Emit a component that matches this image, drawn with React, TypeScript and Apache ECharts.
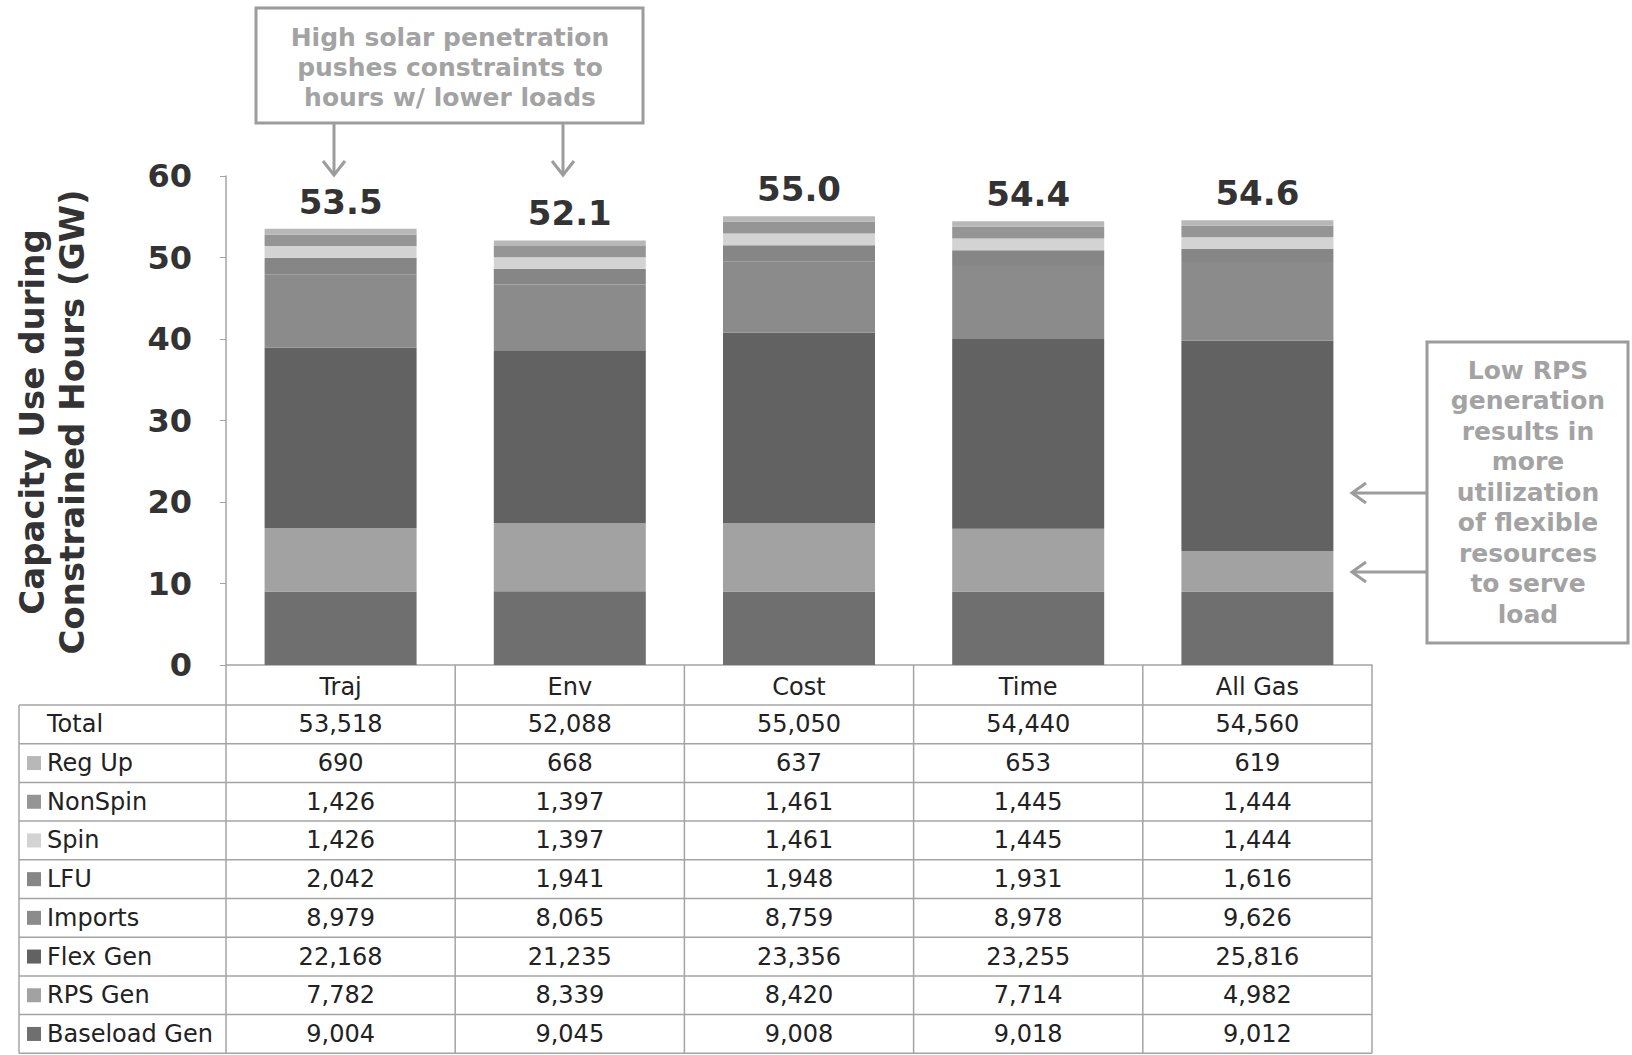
import React, { useEffect, useRef } from "react";
import * as echarts from "echarts";

// Scenario columns and the capacity components (MW) during constrained hours
const categories = ["Traj", "Env", "Cost", "Time", "All Gas"];
const totals = [53518, 52088, 55050, 54440, 54560];
const regUp = [690, 668, 637, 653, 619];
const nonSpin = [1426, 1397, 1461, 1445, 1444];
const spin = [1426, 1397, 1461, 1445, 1444];
const lfu = [2042, 1941, 1948, 1931, 1616];
const imports = [8979, 8065, 8759, 8978, 9626];
const flexGen = [22168, 21235, 23356, 23255, 25816];
const rpsGen = [7782, 8339, 8420, 7714, 4982];
const baseloadGen = [9004, 9045, 9008, 9018, 9012];

const axisMax = 60;
const axisStep = 10;

const topNote = ["High solar penetration", "pushes constraints to", "hours w/ lower loads"];
const sideNote = [
  "Low RPS",
  "generation",
  "results in",
  "more",
  "utilization",
  "of flexible",
  "resources",
  "to serve",
  "load",
];

// Stack order, bottom to top
const stackOrder: [string, number[]][] = [
  ["Baseload Gen", baseloadGen],
  ["RPS Gen", rpsGen],
  ["Flex Gen", flexGen],
  ["Imports", imports],
  ["LFU", lfu],
  ["Spin", spin],
  ["NonSpin", nonSpin],
  ["Reg Up", regUp],
];

const swatch: Record<string, string> = {
  "Baseload Gen": "#6f6f6f",
  "RPS Gen": "#a2a2a2",
  "Flex Gen": "#626262",
  Imports: "#8b8b8b",
  LFU: "#868686",
  Spin: "#d3d3d3",
  NonSpin: "#959595",
  "Reg Up": "#b8b8b8",
};

// Layout
const PLOT_L = 226;
const PLOT_R = 1372;
const PLOT_T = 176;
const PLOT_B = 665;
const COL_W = (PLOT_R - PLOT_L) / categories.length;
const TABLE_L = 19;
const HEADER_B = 705;
const ROW_H = 38.7;
const FONT = "DejaVu Sans, Verdana, sans-serif";
const GRID_COLOR = "#a4a4a4";
const NOTE_COLOR = "#a3a3a3";

const fmt = (v: number) => v.toLocaleString("en-US");

function buildGraphics() {
  const g: any[] = [];
  const rows: [string, number[], boolean][] = [["Total", totals, false]];
  for (let i = stackOrder.length - 1; i >= 0; i--) {
    rows.push([stackOrder[i][0], stackOrder[i][1], true]);
  }
  const tableB = HEADER_B + ROW_H * rows.length;

  // table rules
  for (let r = 0; r <= rows.length; r++) {
    const y = HEADER_B + r * ROW_H;
    g.push({
      type: "line",
      shape: { x1: TABLE_L, y1: y, x2: PLOT_R, y2: y },
      style: { stroke: GRID_COLOR, lineWidth: 1.5 },
    });
  }
  g.push({
    type: "line",
    shape: { x1: TABLE_L, y1: HEADER_B, x2: TABLE_L, y2: tableB },
    style: { stroke: GRID_COLOR, lineWidth: 1.5 },
  });
  for (let c = 0; c <= categories.length; c++) {
    const x = PLOT_L + c * COL_W;
    g.push({
      type: "line",
      shape: { x1: x, y1: PLOT_B, x2: x, y2: tableB },
      style: { stroke: GRID_COLOR, lineWidth: 1.5 },
    });
  }

  // table cells
  rows.forEach(([label, vals, hasSwatch], r) => {
    const cy = HEADER_B + (r + 0.5) * ROW_H;
    if (hasSwatch) {
      g.push({
        type: "rect",
        shape: { x: 27, y: cy - 7, width: 14, height: 14 },
        style: { fill: swatch[label] },
      });
    }
    g.push({
      type: "text",
      x: 47,
      y: cy,
      style: {
        text: label,
        fontSize: 24,
        fontFamily: FONT,
        fill: "#222",
        align: "left",
        verticalAlign: "middle",
      },
    });
    vals.forEach((v, c) => {
      g.push({
        type: "text",
        x: PLOT_L + (c + 0.5) * COL_W,
        y: cy,
        style: {
          text: fmt(v),
          fontSize: 24,
          fontFamily: FONT,
          fill: "#222",
          align: "center",
          verticalAlign: "middle",
        },
      });
    });
  });

  // axis title
  g.push({
    type: "text",
    x: 52,
    y: 422,
    rotation: Math.PI / 2,
    style: {
      text: "Capacity Use during\nConstrained Hours (GW)",
      fontSize: 34,
      fontWeight: "bold",
      fontFamily: FONT,
      fill: "#333",
      align: "center",
      verticalAlign: "middle",
      lineHeight: 40,
    },
  });

  // note above the first two columns
  g.push({
    type: "rect",
    shape: { x: 256, y: 8, width: 387, height: 115 },
    style: { fill: "none", stroke: "#9c9c9c", lineWidth: 3 },
  });
  topNote.forEach((t, i) => {
    g.push({
      type: "text",
      x: 450,
      y: 37 + i * 30,
      style: {
        text: t,
        fontSize: 25,
        fontWeight: "bold",
        fontFamily: FONT,
        fill: NOTE_COLOR,
        align: "center",
        verticalAlign: "middle",
      },
    });
  });
  [334, 563].forEach((x) => {
    g.push({
      type: "line",
      shape: { x1: x, y1: 123, x2: x, y2: 175 },
      style: { stroke: "#9c9c9c", lineWidth: 3 },
    });
    g.push({
      type: "polyline",
      shape: { points: [[x - 11, 161], [x, 175], [x + 11, 161]] },
      style: { stroke: "#9c9c9c", lineWidth: 3, fill: "none" },
    });
  });

  // note at the right side
  g.push({
    type: "rect",
    shape: { x: 1427, y: 342, width: 201, height: 301 },
    style: { fill: "none", stroke: "#9c9c9c", lineWidth: 3 },
  });
  sideNote.forEach((t, i) => {
    g.push({
      type: "text",
      x: 1528,
      y: 370 + i * 30.5,
      style: {
        text: t,
        fontSize: 25,
        fontWeight: "bold",
        fontFamily: FONT,
        fill: NOTE_COLOR,
        align: "center",
        verticalAlign: "middle",
      },
    });
  });
  [493, 572].forEach((y) => {
    g.push({
      type: "line",
      shape: { x1: 1427, y1: y, x2: 1352, y2: y },
      style: { stroke: "#9c9c9c", lineWidth: 3 },
    });
    g.push({
      type: "polyline",
      shape: { points: [[1366, y - 10], [1352, y], [1366, y + 10]] },
      style: { stroke: "#9c9c9c", lineWidth: 3, fill: "none" },
    });
  });

  return g;
}

export default function App() {
  const ref = useRef<HTMLDivElement>(null);

  useEffect(() => {
    if (!ref.current) return;
    const chart = echarts.init(ref.current, undefined, { renderer: "svg" });

    const series = stackOrder.map(([name, vals], idx) => {
      const isTop = idx === stackOrder.length - 1;
      return {
        name,
        type: "bar",
        stack: "capacity",
        barWidth: 152,
        data: vals.map((v) => v / 1000),
        itemStyle: { color: swatch[name] },
        label: isTop
          ? {
              show: true,
              position: "top",
              distance: 10,
              formatter: (p: any) => (totals[p.dataIndex] / 1000).toFixed(1),
              fontSize: 34,
              fontWeight: "bold",
              fontFamily: FONT,
              color: "#333",
            }
          : { show: false },
      };
    });

    chart.setOption({
      animation: false,
      backgroundColor: "#ffffff",
      grid: {
        left: PLOT_L,
        right: 1632 - PLOT_R,
        top: PLOT_T,
        bottom: 1055 - PLOT_B,
        containLabel: false,
      },
      xAxis: {
        type: "category",
        data: categories,
        axisLine: { show: true, lineStyle: { color: GRID_COLOR, width: 1.5 } },
        axisTick: { show: false },
        axisLabel: {
          fontSize: 24,
          fontFamily: FONT,
          color: "#222",
          margin: 10,
        },
      },
      yAxis: {
        type: "value",
        min: 0,
        max: axisMax,
        interval: axisStep,
        axisLine: { show: true, lineStyle: { color: GRID_COLOR, width: 1.5 } },
        axisTick: { show: true, length: 6, lineStyle: { color: GRID_COLOR } },
        splitLine: { show: false },
        axisLabel: {
          fontSize: 32,
          fontWeight: "bold",
          fontFamily: FONT,
          color: "#333",
          margin: 34,
        },
      },
      series,
      graphic: { elements: buildGraphics() },
    });

    return () => chart.dispose();
  }, []);

  return (
    <div
      ref={ref}
      style={{
        position: "fixed",
        left: 0,
        top: 0,
        width: 1632,
        height: 1055,
        background: "#fff",
      }}
    />
  );
}
